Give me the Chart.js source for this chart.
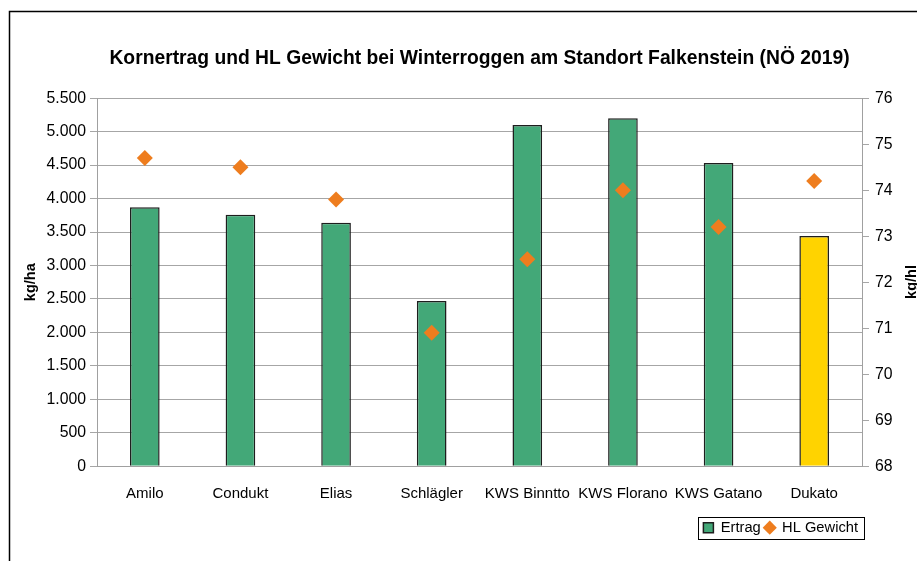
<!DOCTYPE html>
<html lang="de">

<head>
  <meta charset="UTF-8">
  <title>Kornertrag und HL Gewicht</title>
  <style>
    body { margin: 0; background: #fff; }
    #wrap { width: 917px; height: 561px; }
  </style>
</head>

<body>
  <div id="wrap"><canvas id="chart"></canvas></div>

  <script src="https://cdn.jsdelivr.net/npm/chart.js@4/dist/chart.umd.min.js"></script>

  <script>
    // Sorten
    const sorten = ['Amilo', 'Condukt', 'Elias', 'Schlägler', 'KWS Binntto', 'KWS Florano', 'KWS Gatano', 'Dukato']
    // Kornertrag in kg/ha
    const ertrag = [3870, 3760, 3640, 2470, 5100, 5200, 4530, 3440]
    // Hektolitergewicht in kg/hl
    const hlGewicht = [74.7, 74.5, 73.8, 70.9, 72.5, 74.0, 73.2, 74.2]
    // Farben der Balken (Dukato gelb als Standard)
    const balkenFarben = ['#43a878', '#43a878', '#43a878', '#43a878', '#43a878', '#43a878', '#43a878', '#ffd300']

    const schrift = "'Liberation Sans', Arial, sans-serif"
    Chart.defaults.font.family = schrift
    Chart.defaults.color = '#000'

    // 5500 -> "5.500"
    const tausender = v => String(v).replace(/\B(?=(\d{3})+(?!\d))/g, '.')

    // Rahmen, rechter Achsentitel und Kasten um die Legende
    const extras = {
      id: 'extras',
      beforeDraw(chart) {
        const c = chart.ctx
        c.save()
        c.fillStyle = '#fff'
        c.fillRect(0, 0, chart.width, chart.height)
        c.strokeStyle = '#000'
        c.lineWidth = 1.5
        c.strokeRect(9.5, 11.5, 1000, 1000)
        c.restore()
      },
      afterDraw(chart) {
        const c = chart.ctx
        c.save()
        c.font = 'bold 14.5px ' + schrift
        c.fillStyle = '#000'
        c.textAlign = 'center'
        c.textBaseline = 'middle'
        c.translate(912, 282)
        c.rotate(-Math.PI / 2)
        c.fillText('kg/hl', 0, 0)
        c.restore()

        const boxes = chart.legend.legendHitBoxes
        if (boxes && boxes.length) {
          const l = Math.min(...boxes.map(b => b.left)) - 5
          const r = Math.max(...boxes.map(b => b.left + b.width)) + 6
          const t = Math.min(...boxes.map(b => b.top)) - 3
          const bt = Math.max(...boxes.map(b => b.top + b.height)) + 4
          c.save()
          c.strokeStyle = '#000'
          c.lineWidth = 1
          c.strokeRect(Math.round(l) + 0.5, Math.round(t) + 0.5, Math.round(r - l), Math.round(bt - t))
          c.restore()
        }
      }
    }

    new Chart(document.getElementById('chart'), {
      data: {
        labels: sorten,
        datasets: [
          {
            type: 'line',
            label: 'HL Gewicht',
            data: hlGewicht,
            yAxisID: 'y1',
            showLine: false,
            pointStyle: 'rectRot',
            pointRadius: 8,
            pointHoverRadius: 8,
            pointBorderWidth: 0,
            backgroundColor: '#ee7d1e',
            borderColor: '#ee7d1e',
            order: 0
          },
          {
            type: 'bar',
            label: 'Ertrag',
            data: ertrag,
            yAxisID: 'y',
            backgroundColor: balkenFarben,
            borderColor: '#1e1e1e',
            borderWidth: 1.5,
            pointStyle: 'rect',
            barPercentage: 0.31,
            categoryPercentage: 1,
            order: 1
          }
        ]
      },
      options: {
        responsive: true,
        maintainAspectRatio: false,
        animation: false,
        layout: { padding: { left: 10, right: 0, top: 10, bottom: 16 } },
        plugins: {
          title: {
            display: true,
            fullSize: false,
            text: 'Kornertrag und HL Gewicht bei Winterroggen am Standort Falkenstein (NÖ 2019)',
            font: { size: 19.3, weight: 'bold' },
            color: '#000',
            padding: { top: 37.5, bottom: 27.5 }
          },
          legend: {
            position: 'bottom',
            align: 'end',
            fullSize: false,
            reverse: true,
            labels: {
              usePointStyle: true,
              boxWidth: 10,
              boxHeight: 10,
              padding: 4,
              font: { size: 14.7 },
              color: '#000'
            }
          },
          tooltip: { enabled: false }
        },
        scales: {
          x: {
            grid: { display: false, drawTicks: false },
            border: { display: true, color: '#a0a0a0' },
            ticks: { padding: 19, font: { size: 15 }, color: '#000', maxRotation: 0, minRotation: 0, autoSkip: false },
            afterFit(s) { s.height = 50 }
          },
          y: {
            position: 'left',
            min: 0,
            max: 5500,
            ticks: { stepSize: 500, padding: 4, font: { size: 15.8 }, color: '#000', callback: v => tausender(v) },
            grid: { color: '#a6a6a6', tickLength: 7 },
            border: { color: '#a0a0a0' },
            title: { display: true, text: 'kg/ha', font: { size: 14.5, weight: 'bold' }, color: '#000', padding: { top: 12 } },
            afterFit(s) { s.width = 87 }
          },
          y1: {
            position: 'right',
            min: 68,
            max: 76,
            ticks: { stepSize: 1, padding: 6, font: { size: 15.8 }, color: '#000' },
            grid: { drawOnChartArea: false, color: '#a6a6a6', tickLength: 7 },
            border: { color: '#a0a0a0' },
            afterFit(s) { s.width = 55 }
          }
        }
      },
      plugins: [extras]
    })
  </script>
</body>

</html>
